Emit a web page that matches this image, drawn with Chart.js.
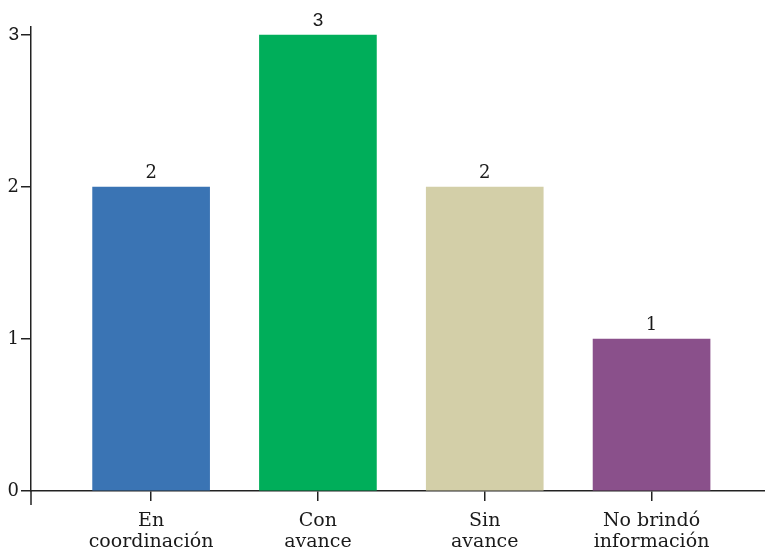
<!DOCTYPE html>
<html>
<head>
<meta charset="utf-8">
<script src="https://cdn.jsdelivr.net/npm/chart.js@4"></script>
<style>
  html, body { margin: 0; padding: 0; background: #fff; }
  #wrap { width: 765px; height: 549px; }
</style>
</head>
<body>
<div id="wrap"><canvas id="chart"></canvas></div>
<script>
// datos
const categorias = [["En", "coordinación"], ["Con", "avance"], ["Sin", "avance"], ["No brindó", "información"]];
const valores = [2, 3, 2, 1];
const colores = ["#3a74b4", "#00ae5a", "#d3cfa8", "#8a508b"];
const ticksY = [0, 1, 2, 3];

const serif = "'DejaVu Serif', serif";
const sans = "'Liberation Sans', sans-serif";
const fuenteNum = v => (v === 3 ? { family: sans, size: 19 } : { family: serif, size: 18 });

// etiquetas de valor sobre las barras
const etiquetas = {
    id: "etiquetas",
    afterDatasetsDraw(chart) {
        const ctx = chart.ctx;
        const meta = chart.getDatasetMeta(0);
        ctx.save();
        ctx.fillStyle = "#1a1a1a";
        ctx.textAlign = "center";
        ctx.textBaseline = "alphabetic";
        meta.data.forEach((bar, i) => {
            const f = fuenteNum(valores[i]);
            ctx.font = f.size + "px " + f.family;
            ctx.fillText(String(valores[i]), bar.x, bar.y - 9);
        });
        ctx.restore();
    }
};

// prolongación del eje Y por debajo del eje X
const ejes = {
    id: "ejes",
    afterDraw(chart) {
        const { ctx, chartArea } = chart;
        ctx.save();
        ctx.strokeStyle = "#222";
        ctx.lineWidth = 1.5;
        ctx.beginPath();
        ctx.moveTo(chartArea.left, chartArea.bottom);
        ctx.lineTo(chartArea.left, chartArea.bottom + 14);
        ctx.stroke();
        ctx.restore();
    }
};

new Chart(document.getElementById("chart"), {
    type: "bar",
    data: {
        datasets: [{
            data: valores.map((v, i) => ({ x: i, y: v })),
            backgroundColor: colores,
            barThickness: 117
        }]
    },
    options: {
        responsive: true,
        maintainAspectRatio: false,
        animation: false,
        layout: { padding: { top: 27, left: 0, right: 0, bottom: 0 } },
        plugins: { legend: { display: false }, tooltip: { enabled: false } },
        scales: {
            x: {
                type: "linear",
                min: -0.72,
                max: 3.68,
                offset: false,
                afterBuildTicks: s => { s.ticks = categorias.map((c, i) => ({ value: i })); },
                afterFit: s => { s.height = 58; },
                ticks: {
                    autoSkip: false,
                    maxRotation: 0,
                    padding: 9,
                    color: "#1a1a1a",
                    font: { family: serif, size: 19, lineHeight: 1.12 },
                    callback: v => categorias[v] || ""
                },
                grid: { offset: false, drawOnChartArea: false, tickLength: 10, color: "#222", lineWidth: 1.5 },
                border: { display: true, color: "#222", width: 1.5 }
            },
            y: {
                min: 0,
                max: 3.053,
                afterBuildTicks: s => { s.ticks = ticksY.map(v => ({ value: v })); },
                afterFit: s => { s.width = 31; },
                ticks: {
                    padding: 2,
                    color: "#1a1a1a",
                    font: c => fuenteNum(c.tick ? c.tick.value : 0)
                },
                grid: { drawOnChartArea: false, tickLength: 10, color: "#222", lineWidth: 1.5 },
                border: { display: true, color: "#222", width: 1.5 }
            }
        }
    },
    plugins: [etiquetas, ejes]
});
</script>
</body>
</html>
